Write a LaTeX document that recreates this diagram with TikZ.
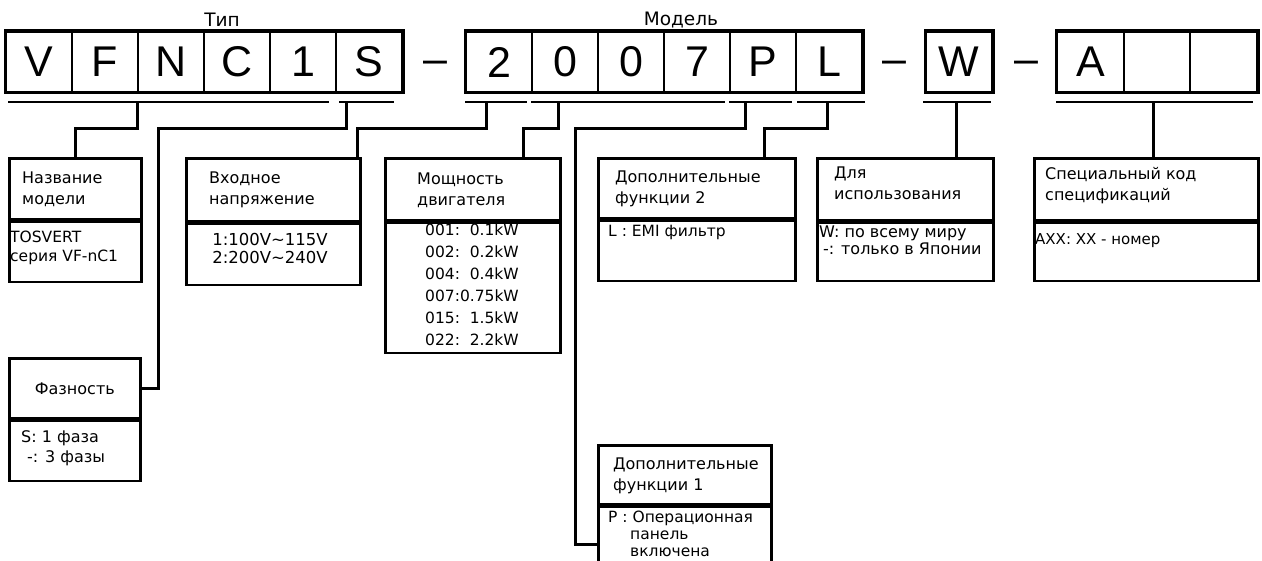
\documentclass[tikz,border=0pt]{standalone}
\usepackage{fontspec}
\setmainfont{DejaVu Sans}
\newfontfamily\cellfont{Liberation Sans}
\usetikzlibrary{positioning}

\tikzset{
  cell/.style={draw, line width=2pt, minimum width=66pt, minimum height=60pt, inner sep=0pt, font=\cellfont\fontsize{43}{43}\selectfont},
  dsh/.style={inner sep=0pt, anchor=base, font=\cellfont\fontsize{43}{43}\selectfont},
  grp/.style={line width=3pt},
  bar/.style={line width=2pt},
  conn/.style={line width=3pt},
  frm/.style={draw, line width=2.6pt, anchor=north west, inner sep=0pt},
  head/.style={anchor=north west, inner sep=0pt, align=left, font=\fontsize{16}{21}\selectfont},
  vals/.style={anchor=north west, inner sep=0pt, align=left, font=\fontsize{15.5}{18}\selectfont},
  ttl/.style={inner sep=0pt, font=\fontsize{18.5}{18.5}\selectfont},
}

\begin{document}
\begin{tikzpicture}[x=1pt, y=-1pt]
\useasboundingbox (0,0) rectangle (1262,561);
% code letters:
\node[ttl] (tip) at (222,20) {Тип};
\foreach \l [count=\i] in {V,F,N,C,1,S}
  \node[cell] (t\i) at (6+66*\i-33,62) {\l};
\draw[grp] (t1.north west) rectangle (t6.south east);
\node[dsh] (d1) at (435,74) {–};
\node[ttl] (model) at (681,20) {Модель};
\foreach \l [count=\i] in {2,0,0,7,P,L}
  \node[cell] (m\i) at (466+66*\i-33,62) {\l};
\draw[grp] (m1.north west) rectangle (m6.south east);
\node[dsh] (d2) at (894,74) {–};
\node[cell] (w1) at (959,62) {W};
\draw[grp] (w1.north west) rectangle (w1.south east);
\node[dsh] (d3) at (1026,74) {–};
\foreach \l [count=\i] in {A,{},{}}
  \node[cell, minimum width=66.7pt] (s\i) at (1057+66.7*\i-33.35,62) {\l};
\draw[grp] (s1.north west) rectangle (s3.south east);
% bars under the letters:
\foreach \a/\b in {8/329, 339/394, 465/527, 531/725, 729/792, 797/865, 923/991, 1056/1253}
  \draw[bar] (\a,102) -- (\b,102);
\coordinate (jT) at (137,102);
\coordinate (jS) at (346,102);
\coordinate (j2) at (486,102);
\coordinate (j7) at (558,102);
\coordinate (jP) at (745,102);
\coordinate (jL) at (827,102);
\coordinate (jW) at (956,102);
\coordinate (jA) at (1153,102);
% boxes:
\node[frm, minimum width=132pt, minimum height=61pt] (nazvH) at (8,157) {};
\node[frm, minimum width=132pt, minimum height=60pt] (nazvB) at (nazvH.south west) {};
\node[frm, minimum width=174pt, minimum height=63pt] (vhodH) at (185,157) {};
\node[frm, minimum width=174pt, minimum height=61pt] (vhodB) at (vhodH.south west) {};
\node[frm, minimum width=175pt, minimum height=62pt] (moshH) at (384,157) {};
\node[frm, minimum width=175pt, minimum height=130pt] (moshB) at (moshH.south west) {};
\node[frm, minimum width=131pt, minimum height=60pt] (fazH) at (8,357) {};
\node[frm, minimum width=131pt, minimum height=60pt] (fazB) at (fazH.south west) {};
\node[frm, minimum width=197pt, minimum height=60pt] (dop2H) at (597,157) {};
\node[frm, minimum width=197pt, minimum height=60pt] (dop2B) at (dop2H.south west) {};
\node[frm, minimum width=176pt, minimum height=62pt] (dlyaH) at (816,157) {};
\node[frm, minimum width=176pt, minimum height=58pt] (dlyaB) at (dlyaH.south west) {};
\node[frm, minimum width=224pt, minimum height=62pt] (specH) at (1033,157) {};
\node[frm, minimum width=224pt, minimum height=58pt] (specB) at (specH.south west) {};
\node[frm, minimum width=173pt, minimum height=59pt] (dop1H) at (597,444) {};
\node[frm, minimum width=173pt, minimum height=76pt] (dop1B) at (dop1H.south west) {};
% texts:
\node[head] (nazvT) at (22,172) {Название\\модели};
\node[vals, font=\fontsize{15.5}{19}\selectfont] (nazvV) at (10,231) {TOSVERT\\серия VF-nC1};
\node[head] (vhodT) at (209,172) {Входное\\напряжение};
\node[vals, align=center, anchor=north, font=\fontsize{16.5}{18}\selectfont] (vhodV) at (270,233) {1:100V\textasciitilde 115V\\2:200V\textasciitilde 240V};
\node[head] (moshT) at (417,173) {Мощность\\двигателя};
\node[vals, font=\fontsize{15.5}{22}\selectfont] (moshV) at (425,224) {001:\ \ 0.1kW\\002:\ \ 0.2kW\\004:\ \ 0.4kW\\007:0.75kW\\015:\ \ 1.5kW\\022:\ \ 2.2kW};
\node[head, anchor=center] (fazT) at (fazH.center) {Фазность};
\node[vals, font=\fontsize{16}{20}\selectfont] (fazV) at (21,430) {S: 1 фаза\\\hspace*{6pt}-: 3 фазы};
\node[head] (dop2T) at (615,171) {Дополнительные\\функции 2};
\node[vals] (dop2V) at (608,225) {L : EMI фильтр};
\node[head] (dlyaT) at (834,167) {Для\\использования};
\node[vals, font=\fontsize{16}{17}\selectfont] (dlyaV) at (819,226) {W: по всему миру\\\hspace*{4pt}-: только в Японии};
\node[head] (specT) at (1045,167) {Специальный код\\спецификаций};
\node[vals, font=\fontsize{15}{18}\selectfont] (specV) at (1035,233) {AXX: XX - номер};
\node[head] (dop1T) at (613,458) {Дополнительные\\функции 1};
\node[vals, font=\fontsize{15.5}{17}\selectfont] (dop1V) at (608,511) {P : Операционная\\\hspace*{22pt}панель\\\hspace*{22pt}включена};
% connectors:
\draw[conn] (jT) -- ++(0,27) -| (nazvH.north);
\draw[conn] (jS) -- ++(0,27) -- ++(-188,0) |- (fazH.east);
\draw[conn] (j2) -- ++(0,27) -| ([xshift=-4pt]vhodH.north east);
\draw[conn] (j7) -- ++(0,27) -| ([xshift=139pt]moshH.north west);
\draw[conn] (jP) -- ++(0,27) -- ++(-170,0) |- (dop1B.west);
\draw[conn] (jL) -- ++(0,27) -| ([xshift=167pt]dop2H.north west);
\draw[conn] (jW) -- (jW |- dlyaH.north);
\draw[conn] (jA) -- (jA |- specH.north);
\end{tikzpicture}
\end{document}
